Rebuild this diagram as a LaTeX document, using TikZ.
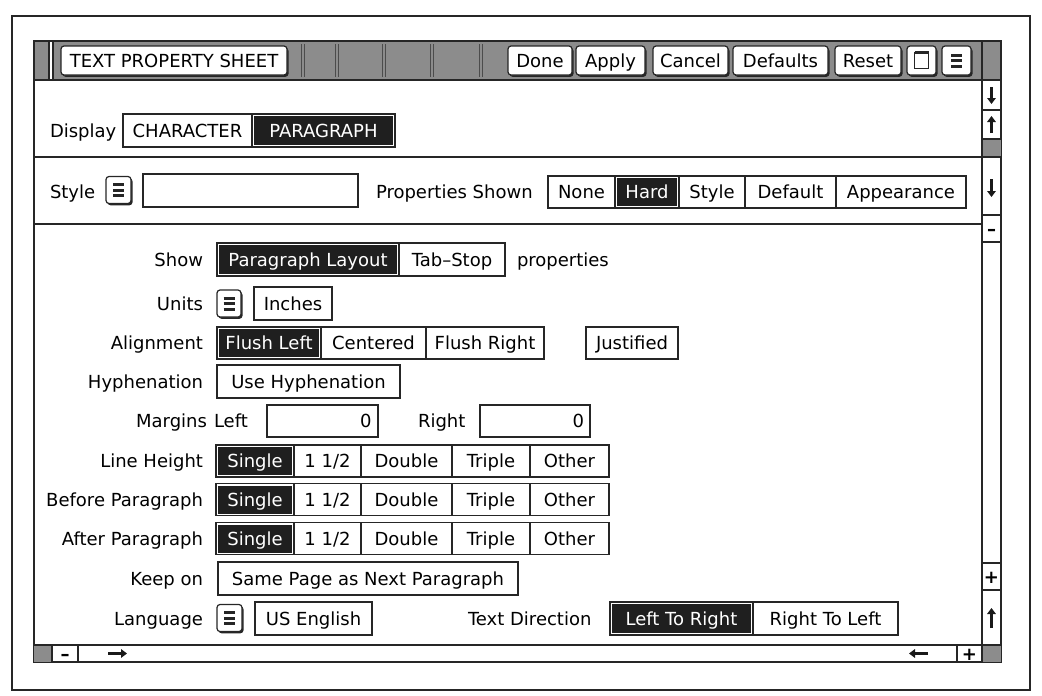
\documentclass[tikz,border=0pt]{standalone}
\usepackage{fontspec}
\setmainfont{DejaVu Sans}
\usetikzlibrary{positioning,shadows,arrows.meta}

\begin{document}
\begin{tikzpicture}[x=1pt,y=-1pt,
  every node/.style={font=\fontsize{18}{20}\selectfont, text height=17pt, text depth=4pt, inner sep=0pt, outer sep=0pt},
  ink/.style={draw=black!85, line width=1.2pt},
  opt/.style={ink, fill=white, minimum height=32pt},
  sel/.style={opt, text=white, path picture={
    \fill[black!88] ([shift={(2pt,2pt)}]path picture bounding box.south west)
      rectangle ([shift={(-2pt,-2pt)}]path picture bounding box.north east);}},
  lbl/.style={anchor=east},
  tbtn/.style={ink, fill=white, rounded corners=3pt, minimum height=29pt,
    drop shadow={shadow xshift=1.5pt, shadow yshift=-1.8pt, opacity=1, fill=black!85}},
  menu/.style={tbtn, minimum width=25pt, minimum height=27pt, path picture={
    \draw[black!85, line width=3pt] ([shift={(-5.5pt,5.5pt)}]path picture bounding box.center) -- ++(11pt,0pt)
      ([shift={(-5.5pt,0pt)}]path picture bounding box.center) -- ++(11pt,0pt)
      ([shift={(-5.5pt,-5.5pt)}]path picture bounding box.center) -- ++(11pt,0pt);}},
  dither/.style={fill=black!45},
  sarr/.style={black!90, line width=2.2pt, -{Triangle[length=6pt,width=8.5pt]}},
  scr/.style={font=\bfseries\fontsize{18}{18}\selectfont}
]
\useasboundingbox (0,0) rectangle (1042,696);
\draw[line width=1.5pt, black!85] (12,16) rectangle (1030,690);

% title bar
\fill[dither] (34,41) rectangle (1001,80);
\draw[ink, fill=white] (49,41) rectangle (53,80);
\draw[black!70, line width=.7pt] (301,44) -- (301,77) (304,44) -- (304,77);
\draw[black!70, line width=.7pt] (335,44) -- (335,77) (338,44) -- (338,77);
\draw[black!70, line width=.7pt] (382,44) -- (382,77) (385,44) -- (385,77);
\draw[black!70, line width=.7pt] (430,44) -- (430,77) (433,44) -- (433,77);
\draw[black!70, line width=.7pt] (479,44) -- (479,77) (482,44) -- (482,77);
\node[tbtn, minimum width=226pt] (sheet) at (174,60.5) {TEXT PROPERTY SHEET};
\node[tbtn, minimum width=64pt] (done) at (540,60.5) {Done};
\node[tbtn, minimum width=69pt, right=4pt of done] (apply) {Apply};
\node[tbtn, minimum width=75pt, right=8pt of apply] (cancel) {Cancel};
\node[tbtn, minimum width=95pt, right=5pt of cancel] (defaults) {Defaults};
\node[tbtn, minimum width=66pt, right=7pt of defaults] (reset) {Reset};
\node[tbtn, minimum width=29pt, right=6pt of reset] (winicon) {};
\node[draw=black!85, line width=1.3pt, minimum width=14pt, minimum height=16pt, text height=0pt, text depth=0pt] (winbox) at (winicon) {};
\draw[line width=3pt, black!85] (winbox.north west) -- (winbox.north east);
\node[menu, minimum width=29pt, minimum height=29pt, right=6pt of winicon] (winmenu) {};

% window
\draw[line width=2pt, black!85] (34,41) rectangle (1001,662);
\draw[ink] (34,80) -- (1001,80);

% display
\node[anchor=west] (displaylbl) at (50,131) {Display};
\node[opt, minimum width=129pt, minimum height=33pt] (character) at (187.5,130.5) {CHARACTER};
\node[sel, minimum width=143pt, minimum height=33pt, right=0pt of character] (paragraph) {PARAGRAPH};
\draw[ink] (34,157) -- (982,157);

% style
\node[anchor=west] (stylelbl) at (50,192) {Style};
\node[menu] (stylemenu) at (118.5,190) {};
\node[opt, minimum width=215pt, minimum height=33pt] (stylefield) at (250.5,190.5) {};
\node[anchor=west] (shownlbl) at (376,192) {Properties Shown};
\node[opt, minimum width=67pt] (none) at (581.5,192) {None};
\node[sel, minimum width=64pt, right=0pt of none] (hard) {Hard};
\node[opt, minimum width=66pt, right=0pt of hard] (stylecell) {Style};
\node[opt, minimum width=91pt, right=0pt of stylecell] (default) {Default};
\node[opt, minimum width=130pt, right=0pt of default] (appearance) {Appearance};
\draw[ink] (34,224) -- (982,224);

% paragraph properties
\node[lbl] (showlbl) at (203,259.5) {Show};
\node[sel, minimum width=182pt, minimum height=33pt] (layout) at (308,259.5) {Paragraph Layout};
\node[opt, minimum width=106pt, minimum height=33pt, right=0pt of layout] (tabstop) {Tab–Stop};
\node[anchor=west] (propslbl) at (517,259.5) {properties};

\node[lbl] (unitslbl) at (203,303.5) {Units};
\node[menu, minimum width=24pt] (unitsmenu) at (229,303.5) {};
\node[opt, minimum width=78pt, minimum height=33pt] (inches) at (293,303.5) {Inches};

\node[lbl] (alignlbl) at (203,343) {Alignment};
\node[sel, minimum width=104pt] (flushleft) at (269,343) {Flush Left};
\node[opt, minimum width=105pt, right=0pt of flushleft] (centered) {Centered};
\node[opt, minimum width=118pt, right=0pt of centered] (flushright) {Flush Right};
\node[opt, minimum width=92pt] (justified) at (632,343) {Justified};

\node[lbl] (hyphlbl) at (203,381.5) {Hyphenation};
\node[opt, minimum width=183pt, minimum height=33pt] (usehyph) at (308.5,381.5) {Use Hyphenation};

\node[lbl] (marginslbl) at (207,421) {Margins};
\node[anchor=west] (leftlbl) at (214,421) {Left};
\node[opt, minimum width=111pt, text width=98pt, align=right] (leftfield) at (322.5,421) {0};
\node[anchor=west] (rightlbl) at (418,421) {Right};
\node[opt, minimum width=110pt, text width=98pt, align=right] (rightfield) at (535,421) {0};

\node[lbl] (lhlbl) at (203,461) {Line Height};
\node[sel, minimum width=78pt] (lhsingle) at (255,461) {Single};
\node[opt, minimum width=67pt, right=0pt of lhsingle] (lhhalf) {1 1/2};
\node[opt, minimum width=91pt, right=0pt of lhhalf] (lhdouble) {Double};
\node[opt, minimum width=78pt, right=0pt of lhdouble] (lhtriple) {Triple};
\node[opt, minimum width=79pt, right=0pt of lhtriple] (lhother) {Other};

\node[lbl] (bplbl) at (203,499.5) {Before Paragraph};
\node[sel, minimum width=78pt] (bpsingle) at (255,499.5) {Single};
\node[opt, minimum width=67pt, right=0pt of bpsingle] (bphalf) {1 1/2};
\node[opt, minimum width=91pt, right=0pt of bphalf] (bpdouble) {Double};
\node[opt, minimum width=78pt, right=0pt of bpdouble] (bptriple) {Triple};
\node[opt, minimum width=79pt, right=0pt of bptriple] (bpother) {Other};

\node[lbl] (aplbl) at (203,538.5) {After Paragraph};
\node[sel, minimum width=78pt] (apsingle) at (255,538.5) {Single};
\node[opt, minimum width=67pt, right=0pt of apsingle] (aphalf) {1 1/2};
\node[opt, minimum width=91pt, right=0pt of aphalf] (apdouble) {Double};
\node[opt, minimum width=78pt, right=0pt of apdouble] (aptriple) {Triple};
\node[opt, minimum width=79pt, right=0pt of aptriple] (apother) {Other};

\node[lbl] (keeplbl) at (203,578.5) {Keep on};
\node[opt, minimum width=300pt, minimum height=33pt] (samepage) at (368,578.5) {Same Page as Next Paragraph};

\node[lbl] (langlbl) at (203,618.5) {Language};
\node[menu] (langmenu) at (229.5,618) {};
\node[opt, minimum width=117pt, minimum height=33pt] (english) at (313.5,618.5) {US English};
\node[anchor=west] (dirlbl) at (468,618.5) {Text Direction};
\node[sel, minimum width=143pt, minimum height=33pt] (ltr) at (681.5,618.5) {Left To Right};
\node[opt, minimum width=145pt, minimum height=33pt, right=0pt of ltr] (rtl) {Right To Left};

% right scroll bar
\fill[dither] (982,139) rectangle (1001,157);
\fill[dither] (982,645) rectangle (1001,662);
\draw[ink] (982,41) -- (982,662);
\draw[ink] (982,110) -- (1001,110);
\draw[ink] (982,139) -- (1001,139);
\draw[ink] (982,157) -- (1001,157);
\draw[ink] (982,215) -- (1001,215);
\draw[ink] (982,242) -- (1001,242);
\draw[ink] (982,563) -- (1001,563);
\draw[ink] (982,590) -- (1001,590);
\draw[sarr] (991.5,87) -- (991.5,104);
\draw[sarr] (991.5,133) -- (991.5,116);
\draw[sarr] (991.5,179) -- (991.5,197);
\node[scr] (vminus) at (991.5,228.5) {–};
\node[scr] (vplus) at (991.5,576.5) {+};
\draw[sarr] (991.5,628) -- (991.5,608);

% bottom scroll bar
\fill[dither] (34,645) rectangle (52,662);
\draw[ink] (34,645) -- (1001,645);
\draw[ink] (52,645) -- (52,662);
\draw[ink] (78,645) -- (78,662);
\draw[ink] (957,645) -- (957,662);
\node[scr] (hminus) at (65,653.5) {–};
\draw[sarr] (108,653.5) -- (127,653.5);
\draw[sarr] (928,653.5) -- (909,653.5);
\node[scr] (hplus) at (969.5,653.5) {+};
\end{tikzpicture}
\end{document}
